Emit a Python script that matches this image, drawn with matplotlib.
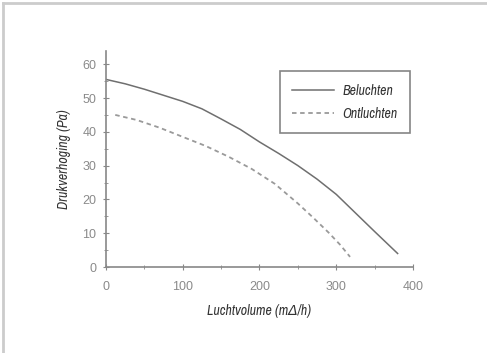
import numpy as np
import matplotlib
matplotlib.use("Agg")
import matplotlib.pyplot as plt
from matplotlib.lines import Line2D

# values
x_bel = [0, 25, 50, 75, 100, 125, 150, 175, 200, 225, 250, 275, 300, 325, 350, 380]
y_bel = [55.5, 54.2, 52.6, 50.8, 49.0, 46.8, 43.8, 40.7, 37.0, 33.6, 30.0, 26.0, 21.5, 16.0, 10.5, 4.0]
x_ont = [12, 40, 70, 100, 130, 160, 190, 220, 250, 270, 290, 305, 318]
y_ont = [45.0, 43.5, 41.2, 38.5, 35.8, 32.6, 29.0, 24.6, 18.8, 14.6, 10.2, 6.6, 3.0]

labels = ["Beluchten", "Ontluchten"]
xticks = [0, 100, 200, 300, 400]
yticks = [0, 10, 20, 30, 40, 50, 60]

plt.rcParams['font.family'] = ["Liberation Sans", "DejaVu Sans"]
narrow = ["Archivo Narrow", "DejaVu Sans"]

fig = plt.figure(figsize=(4.87, 3.53), dpi=100)
ax = fig.add_axes([0.2177, 0.2436, 0.848 - 0.2177, 0.6128])

# light frame round the picture (top and left)
fig.add_artist(Line2D([0.006, 1.0], [0.991, 0.991], color="#cccccc", lw=2))
fig.add_artist(Line2D([0.006, 0.006], [0.0, 0.991], color="#cccccc", lw=2))

ax.plot(x_bel, y_bel, color="#6f6f6f", lw=1.1, label=labels[0])
ax.plot(x_ont, y_ont, color="#9a9a9a", lw=1.3, linestyle=(0, (2.5, 2)), label=labels[1])

ax.set_xlim(0, 400)
ax.set_ylim(0, 64)
ax.set_xticks(xticks)
ax.set_yticks(yticks)
ax.set_xticks(np.arange(0, 401, 50), minor=True)
ax.set_yticks(np.arange(0, 61, 5), minor=True)

for s in ["top", "right"]:
    ax.spines[s].set_visible(False)
for s in ["left", "bottom"]:
    ax.spines[s].set_color("#888888")
    ax.spines[s].set_linewidth(1.2)

ax.tick_params(which="both", direction="inout", color="#888888", labelcolor="#8a8a8a",
               labelsize=9)
ax.tick_params(which="major", length=4)
ax.tick_params(which="minor", length=3)
ax.tick_params(axis="x", pad=8)
ax.tick_params(axis="y", pad=5)

ax.set_xlabel("Luchtvolume (m\u0394/h)", style="italic", fontsize=10, color="#333333",
              labelpad=8, family=narrow)
ax.set_ylabel("Drukverhoging (Pa)", style="italic", fontsize=10, color="#333333",
              labelpad=8, family=narrow)

leg = ax.legend(loc="upper right", bbox_to_anchor=(0.99, 0.906), borderaxespad=0,
                frameon=True, fancybox=False, edgecolor="#666666", handlelength=3.0,
                borderpad=0.9, labelspacing=0.65, handletextpad=0.6,
                prop={"style": "italic", "size": 10, "family": narrow})
leg.get_frame().set_linewidth(1.2)
for t in leg.get_texts():
    t.set_color("#333333")

fig.savefig("out.png", dpi=100)
